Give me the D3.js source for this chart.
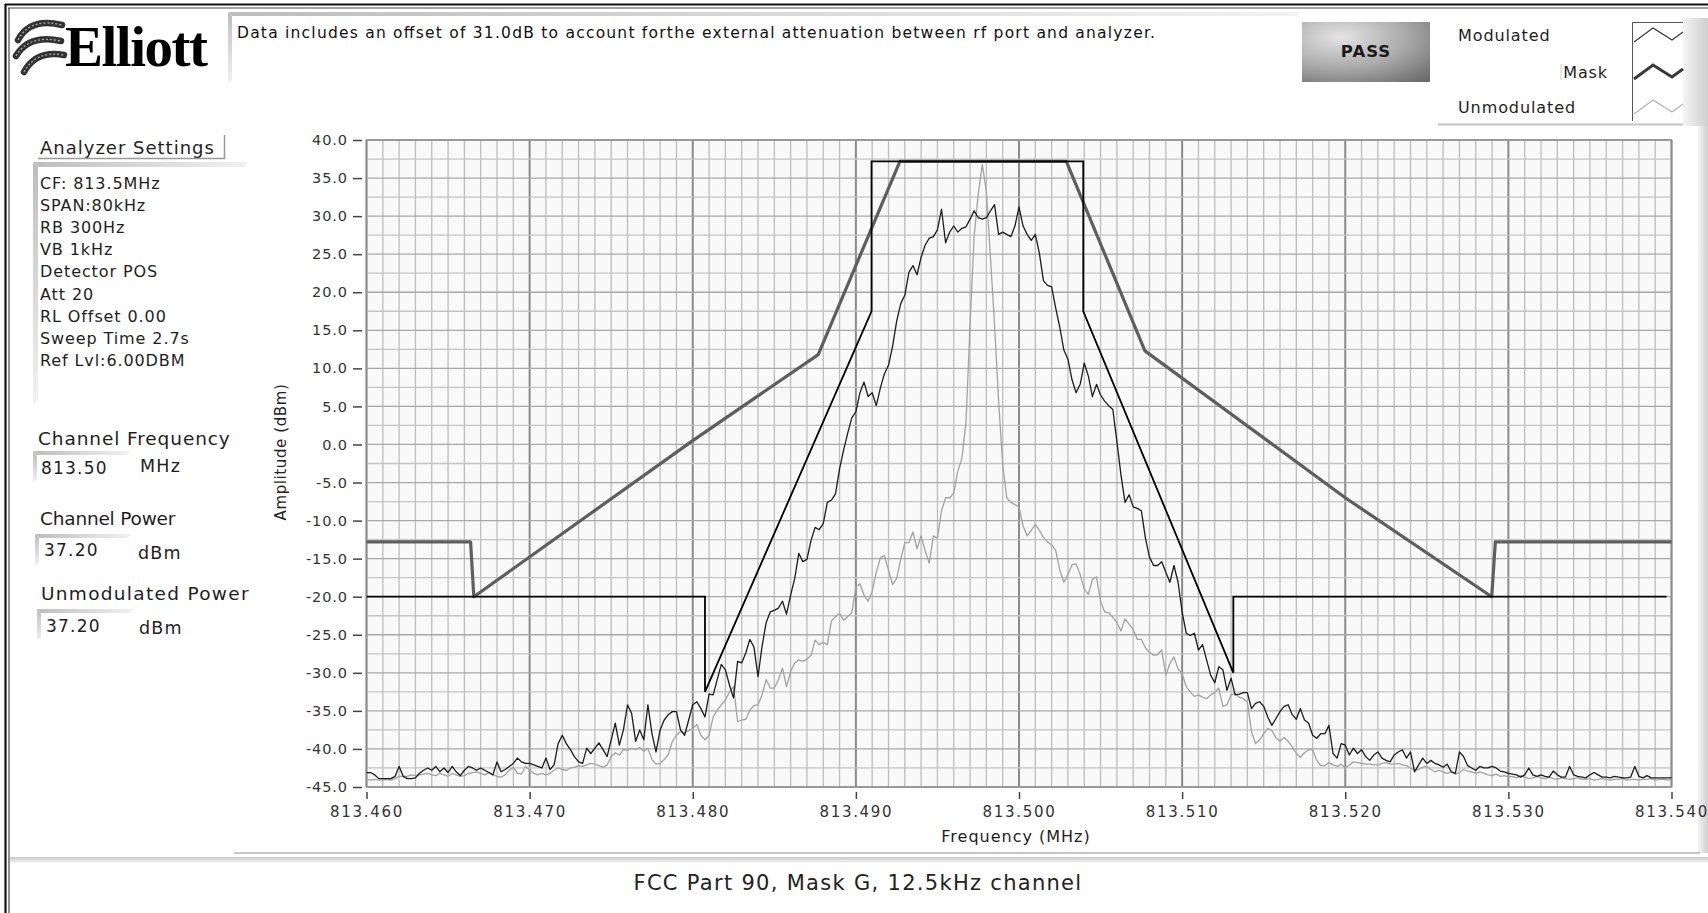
<!DOCTYPE html>
<html><head><meta charset="utf-8">
<script src="https://cdn.jsdelivr.net/npm/d3@7"></script>
<style>
body{margin:0;background:#fff;overflow:hidden}
svg{display:block}
text{font-family:"DejaVu Sans",Verdana,sans-serif}
</style></head>
<body>
<svg id="c" width="1708" height="913"></svg>
<script>
// ---------------- DATA ----------------
const freqStartMHz = 813.460;      // first sweep point
const freqStepKHz = 0.25;          // sweep point spacing
// Modulated trace (dBm), 321 points, 813.460 .. 813.540 MHz
const modulatedDbm = [
-43.1,-43.1,-43.4,-43.9, -43.9,-43.9,-43.9,-43.6, -42.3,-43.6,-43.9,-43.9, -43.8,-43.2,-42.8,-42.5,
-42.8,-42.3,-43.0,-42.5, -43.1,-42.3,-43.0,-43.5, -42.8,-42.3,-42.5,-42.8, -42.5,-42.8,-43.1,-43.4,
-41.7,-43.0,-42.7,-42.3, -41.9,-41.2,-41.7,-41.9, -41.9,-42.1,-42.3,-42.5, -41.2,-42.7,-42.1,-39.3,
-38.2,-39.3,-40.1,-41.0, -41.7,-41.9,-39.9,-40.6, -39.9,-39.2,-40.1,-41.0, -38.8,-36.6,-39.5,-37.5,
-34.2,-35.3,-39.0,-37.5, -38.8,-34.2,-38.0,-40.4, -37.5,-36.2,-35.5,-35.1, -35.1,-37.5,-38.2,-36.2,
-34.2,-33.8,-34.7,-35.8, -32.8,-32.9,-30.9,-28.9, -29.6,-31.6,-33.3,-28.5, -28.7,-27.4,-25.6,-26.6,
-30.5,-26.5,-23.4,-22.0, -21.8,-21.5,-20.6,-22.3, -19.8,-17.6,-14.3,-15.4, -15.1,-12.6,-10.9,-11.2,
-10.4,-7.6,-7.3,-6.5, -3.2,-0.7,1.5,3.5, 4.3,6.8,8.2,6.3, 6.8,5.1,7.4,9.3,
10.4,12.9,16.2,18.5, 19.6,22.6,23.5,22.3, 24.6,26.2,27.1,27.3, 28.2,30.9,26.5,27.9,
28.7,27.9,28.4,28.6, 29.6,30.7,29.8,29.6, 29.8,30.7,31.5,27.6, 27.9,27.6,27.3,28.7,
31.2,28.7,27.6,26.8, 27.6,25.1,21.5,20.9, 20.7,17.9,15.4,12.4, 11.2,8.5,6.8,7.9,
10.7,9.0,6.3,7.9, 6.5,5.7,5.1,4.6, 0.4,-4.0,-7.6,-6.6, -8.2,-8.4,-8.7,-12.3,
-14.8,-15.9,-15.9,-15.4, -16.8,-18.1,-15.9,-18.1, -22.0,-24.8,-25.1,-24.8, -27.0,-26.3,-28.3,-30.3,
-31.3,-29.2,-29.6,-32.3, -30.7,-32.9,-32.8,-32.6, -32.6,-34.7,-34.0,-33.8, -34.4,-35.8,-36.9,-36.0,
-35.1,-34.4,-34.2,-35.5, -36.1,-34.7,-36.2,-36.6, -38.2,-38.6,-38.0,-38.0, -36.9,-40.6,-41.2,-39.3,
-39.5,-40.8,-39.9,-40.6, -40.1,-41.0,-41.5,-40.8, -40.4,-41.2,-41.5,-41.7, -40.8,-40.4,-40.1,-41.2,
-40.4,-43.0,-42.1,-41.2, -41.9,-41.5,-41.9,-42.1, -42.4,-42.0,-43.0,-43.2, -40.4,-41.0,-42.2,-42.5,
-42.8,-42.3,-42.5,-42.5, -42.3,-42.5,-42.9,-43.0, -43.2,-43.3,-43.4,-43.7, -43.4,-42.5,-43.4,-43.6,
-43.4,-43.6,-43.7,-42.9, -43.4,-43.7,-43.7,-42.3, -43.4,-43.6,-43.7,-43.8, -43.4,-43.1,-43.4,-43.7,
-43.7,-43.8,-43.6,-43.7, -43.8,-43.8,-43.7,-42.3, -43.6,-43.8,-43.5,-43.8, -43.8,-43.8,-43.8,-43.8,
-43.8
];
// Unmodulated trace (dBm), 321 points
const unmodulatedDbm = [
-44.0,-44.1,-44.0,-44.1, -44.1,-44.0,-44.1,-43.9, -43.6,-43.6,-43.6,-43.4, -43.5,-43.4,-43.3,-43.2,
-43.4,-43.5,-43.2,-43.4, -43.6,-43.2,-43.4,-43.6, -43.5,-43.2,-43.1,-43.0, -43.2,-43.4,-43.1,-43.4,
-43.6,-43.7,-43.4,-42.8, -42.4,-43.2,-43.3,-42.3, -42.8,-43.2,-43.4,-43.2, -43.4,-43.2,-42.8,-42.5,
-42.7,-42.8,-42.5,-42.4, -42.2,-42.3,-42.1,-41.9, -42.0,-42.2,-42.4,-42.1, -41.0,-40.5,-40.8,-40.1,
-40.2,-39.9,-40.1,-39.8, -40.3,-39.9,-41.4,-42.0, -41.9,-41.4,-40.7,-39.0, -38.2,-37.7,-37.9,-37.6,
-37.3,-36.8,-38.2,-38.8, -38.2,-35.8,-34.9,-34.2, -33.6,-32.5,-31.8,-36.4, -36.2,-36.1,-34.9,-34.3,
-34.2,-32.9,-30.9,-32.0, -32.0,-30.9,-29.4,-31.8, -29.8,-28.7,-28.3,-28.5, -28.2,-27.7,-25.7,-26.3,
-26.0,-26.3,-23.2,-22.6, -22.2,-23.1,-22.6,-22.1, -18.7,-18.3,-19.8,-20.6, -19.3,-16.8,-14.9,-14.6,
-16.5,-18.4,-17.6,-15.1, -12.9,-12.9,-11.5,-13.7, -12.0,-14.0,-15.6,-12.0, -12.3,-8.7,-7.0,-7.0,
-6.4,-3.5,-1.8,2.9, 15.7,27.3,32.9,36.8, 33.2,24.6,15.7,5.7, -2.6,-7.0,-7.6,-7.9,
-8.2,-10.7,-12.0,-11.3, -10.5,-11.3,-12.2,-12.8, -13.2,-13.9,-16.5,-18.1, -17.1,-15.8,-15.7,-17.1,
-19.0,-19.7,-17.7,-17.4, -20.6,-22.0,-22.1,-22.7, -23.4,-24.5,-22.9,-23.6, -24.3,-25.6,-25.6,-26.7,
-27.3,-27.7,-27.6,-27.0, -30.3,-28.8,-27.9,-29.5, -30.1,-31.8,-32.5,-33.1, -32.9,-33.2,-33.4,-32.9,
-32.6,-32.0,-34.4,-34.2, -32.9,-32.7,-33.2,-33.4, -33.8,-37.7,-39.3,-38.8, -38.0,-37.3,-37.6,-38.5,
-39.0,-38.5,-39.0,-39.7, -40.6,-41.1,-40.5,-40.1, -40.1,-41.5,-42.2,-42.2, -41.8,-42.1,-42.3,-42.0,
-42.5,-42.1,-41.7,-41.8, -41.9,-42.0,-42.0,-42.1, -42.1,-41.9,-41.8,-42.0, -42.0,-41.9,-42.1,-42.2,
-42.5,-42.8,-42.7,-42.4, -42.3,-42.7,-43.0,-42.8, -43.0,-43.2,-43.0,-43.3, -43.1,-42.7,-42.9,-43.0,
-43.2,-43.0,-43.2,-43.4, -43.5,-43.3,-43.6,-43.5, -43.7,-43.6,-43.8,-43.5, -43.7,-43.9,-43.8,-43.6,
-43.8,-43.9,-43.7,-43.9, -44.0,-43.8,-43.9,-44.0, -43.9,-43.8,-44.0,-44.0, -43.9,-44.1,-44.0,-43.9,
-44.0,-44.1,-44.0,-44.0, -43.9,-44.1,-44.0,-44.0, -44.1,-44.0,-44.0,-43.9, -44.1,-44.0,-44.0,-44.1,
-44.0
];
// Emission mask (thick grey trace)
const maskFreqMHz = [813.460, 813.46638, 813.46658, 813.480, 813.48769, 813.4927, 813.5029, 813.50772, 813.520, 813.52898, 813.52920, 813.540];
const maskDbm     = [-12.8, -12.8, -20.0, 0.5, 11.8, 37.2, 37.2, 12.3, -7.0, -20.0, -12.8, -12.8];
// Limit outline (thin black)
const limitFreqMHz = [813.460, 813.48075, 813.48075, 813.49096, 813.49096, 813.50394, 813.50394, 813.51314, 813.51314, 813.5397];
const limitDbm     = [-20, -20, -32.5, 17.5, 37.2, 37.2, 17.5, -30.0, -20, -20];
// Axes
const xTickValues = [813.460, 813.470, 813.480, 813.490, 813.500, 813.510, 813.520, 813.530, 813.540];
const yTickValues = [-45, -40, -35, -30, -25, -20, -15, -10, -5, 0, 5, 10, 15, 20, 25, 30, 35, 40];
// Texts
const settingsLines = ["CF: 813.5MHz","SPAN:80kHz","RB 300Hz","VB 1kHz","Detector POS","Att 20","RL Offset 0.00","Sweep Time 2.7s","Ref Lvl:6.00DBM"];
const legendLabels = ["Modulated","Mask","Unmodulated"];
const noteText = "Data includes an offset of 31.0dB to account forthe external attenuation between rf port and analyzer.";
const captionText = "FCC Part 90, Mask G, 12.5kHz channel";

if (modulatedDbm.length !== 321 || unmodulatedDbm.length !== 321)
  throw new Error("len " + modulatedDbm.length + " " + unmodulatedDbm.length);

// ---------------- DRAW ----------------
const svg = d3.select("#c");
const defs = svg.append("defs");
function lg(id, x2, y2, stops){
  const g = defs.append("linearGradient").attr("id", id).attr("x1",0).attr("y1",0).attr("x2",x2).attr("y2",y2);
  stops.forEach(s => g.append("stop").attr("offset", s[0]).attr("stop-color", s[1]));
}
lg("gH", 1, 0, [[0,"#bdbdbd"],[1,"#f2f2f2"]]);
lg("gV", 0, 1, [[0,"#bdbdbd"],[1,"#f2f2f2"]]);
lg("gSide", 1, 0, [[0,"#f4f4f4"],[1,"#cfcfcf"]]);
lg("gCap", 0, 1, [[0,"#c8c8c8"],[1,"#f6f6f6"]]);
const rg = defs.append("radialGradient").attr("id","gBtn").attr("cx","0.3").attr("cy","0.25").attr("r","0.95");
rg.append("stop").attr("offset",0).attr("stop-color","#e4e4e4");
rg.append("stop").attr("offset",0.55).attr("stop-color","#a9a9a9");
rg.append("stop").attr("offset",1).attr("stop-color","#6e6e6e");

function txt(xp, yp, s, size, ls, anchor){
  return svg.append("text").attr("x",xp).attr("y",yp).text(s)
    .attr("text-anchor", anchor || "start")
    .style("font-size", size + "px").style("letter-spacing", (ls||0) + "px").attr("fill","#1e1e1e");
}
// sunken-frame helper (light-grey bevel on top and left)
function bevel(x0, y0, x1, y1, w){
  svg.append("path").attr("d", `M${x0},${y0}L${x1},${y0}L${x1-w},${y0+w}L${x0+w},${y0+w}Z`).attr("fill","url(#gH)");
  svg.append("path").attr("d", `M${x0},${y0}L${x0+w},${y0+w}L${x0+w},${y1-w}L${x0},${y1}Z`).attr("fill","url(#gV)");
}

// outer window frame
svg.append("line").attr("x1",5).attr("x2",1708).attr("y1",4.5).attr("y2",4.5).attr("stroke","#111").attr("stroke-width",2);
svg.append("line").attr("x1",8).attr("x2",1708).attr("y1",8).attr("y2",8).attr("stroke","#444").attr("stroke-width",1.2);
svg.append("line").attr("x1",5.5).attr("x2",5.5).attr("y1",4).attr("y2",913).attr("stroke","#111").attr("stroke-width",2.2);
svg.append("line").attr("x1",9).attr("x2",9).attr("y1",8).attr("y2",913).attr("stroke","#444").attr("stroke-width",1.2);

// logo
const logo = svg.append("g");
["M18,40 Q30,17 62,25","M16,56 Q29,34 61,41","M24,72 Q36,50 64,55"].forEach(p=>{
  logo.append("path").attr("d",p).attr("fill","none").attr("stroke","#333").attr("stroke-width",6.5).attr("stroke-linecap","round");
  logo.append("path").attr("d",p).attr("fill","none").attr("stroke","#aaa").attr("stroke-width",1.3).attr("stroke-dasharray","2 2");
});
svg.append("text").attr("x",65).attr("y",66).text("Elliott")
  .style("font-family","'Liberation Serif','Times New Roman',serif").style("font-weight","bold")
  .style("font-size","57px").style("letter-spacing","-1.5px").attr("fill","#000");

// note box
bevel(228, 12, 1300, 84, 4);
txt(237, 38, noteText, 15.5).attr("textLength",918).attr("lengthAdjust","spacing").attr("fill","#111");

// PASS button
svg.append("rect").attr("x",1302).attr("y",22).attr("width",128).attr("height",60).attr("fill","url(#gBtn)");
txt(1366, 57, "PASS", 16.5, 1, "middle").style("font-weight","bold").attr("fill","#1a1a1a");

// legend
svg.append("rect").attr("x",1683).attr("y",18).attr("width",25).attr("height",108).attr("fill","url(#gSide)");
svg.append("line").attr("x1",1438).attr("x2",1683).attr("y1",124.5).attr("y2",124.5).attr("stroke","#c4c4c4").attr("stroke-width",2);
const legY = [35, 72, 107];
txt(1458, legY[0]+6, legendLabels[0], 16, 0.9);
txt(1608, legY[1]+6, legendLabels[1], 16, 0.9, "end");
svg.append("line").attr("x1",1561).attr("x2",1561).attr("y1",64).attr("y2",80).attr("stroke","#ccc");
txt(1458, legY[2]+6, legendLabels[2], 16, 0.9);
svg.append("path").attr("d","M1632.5,121V22.5H1683").attr("fill","none").attr("stroke","#555").attr("stroke-width",1);
const legIcon = (dy) => `M1634,${dy+7}L1653,${dy-7}L1672,${dy+5}L1683,${dy-3}`;
svg.append("path").attr("d",legIcon(legY[0])).attr("fill","none").attr("stroke","#333").attr("stroke-width",1.1);
svg.append("path").attr("d",legIcon(legY[1])).attr("fill","none").attr("stroke","#3a3a3a").attr("stroke-width",3);
svg.append("path").attr("d",legIcon(legY[2])).attr("fill","none").attr("stroke","#b0b0b0").attr("stroke-width",1.1);

// right-side shade bar
svg.append("rect").attr("x",1698).attr("y",126).attr("width",10).attr("height",727).attr("fill","url(#gSide)");

// left panel
txt(40, 153.5, "Analyzer Settings", 18, 1);
svg.append("path").attr("d","M38,158.5H224.5V135").attr("fill","none").attr("stroke","#9a9a9a").attr("stroke-width",1.5);
bevel(33, 162, 248, 405, 5);
settingsLines.forEach((s,i)=> txt(40, 188.5 + i*22.2, s, 16, 0.9));
const fields = [
  {label:"Channel Frequency", ls:0.9, ly:438, lx:38, bx:33, by:451, val:"813.50", vx:41, vy:468, unit:"MHz", ux:140, uy:466},
  {label:"Channel Power", ls:-0.2, ly:518, lx:40, bx:35, by:534, val:"37.20", vx:44, vy:550, unit:"dBm", ux:138, uy:553},
  {label:"Unmodulated Power", ls:1.3, ly:593, lx:41, bx:37, by:609, val:"37.20", vx:46, vy:626, unit:"dBm", ux:139, uy:628}
];
fields.forEach(f=>{
  txt(f.lx, f.ly+6.5, f.label, 18.5, f.ls);
  bevel(f.bx, f.by, f.bx+97, f.by+32, 4);
  txt(f.vx, f.vy+6, f.val, 17, 1.2);
  txt(f.ux, f.uy+6, f.unit, 17.5, 1.2);
});

// ---------- plot ----------
const x = d3.scaleLinear().domain([813.460, 813.540]).range([366.5, 1671.5]);
const y = d3.scaleLinear().domain([-45, 40]).range([787, 140]);
const [px0, px1] = x.range(), [py1, py0] = y.range();

svg.append("rect").attr("x",px0).attr("y",py0).attr("width",px1-px0).attr("height",py1-py0).attr("fill","#f9f9f9");
const grid = svg.append("g");
d3.range(0, 81).forEach(k=>{
  const f = 813.460 + k/1000, major = (k % 10 === 0);
  grid.append("line").attr("x1",x(f)).attr("x2",x(f)).attr("y1",py0).attr("y2",py1)
    .attr("stroke", major ? "#8a8a8a" : "#bdbdbd").attr("stroke-width", major ? 2 : 1.3);
});
d3.range(0, 35).forEach(j=>{
  const v = -45 + j*2.5, major = (j % 2 === 0);
  grid.append("line").attr("x1",px0).attr("x2",px1).attr("y1",y(v)).attr("y2",y(v))
    .attr("stroke", major ? "#a8a8a8" : "#c4c4c4").attr("stroke-width", 1.3);
});
svg.append("rect").attr("x",px0).attr("y",py0).attr("width",px1-px0).attr("height",py1-py0)
  .attr("fill","none").attr("stroke","#8e8e8e").attr("stroke-width",1.5);

// axes
const yAxis = svg.append("g").attr("transform","translate(362,0)")
  .call(d3.axisLeft(y).tickValues(yTickValues).tickFormat(d=>d.toFixed(1)).tickSize(9).tickPadding(5));
const xAxis = svg.append("g").attr("transform","translate(0,792)")
  .call(d3.axisBottom(x).tickValues(xTickValues).tickFormat(d=>d.toFixed(3)).tickSize(7).tickPadding(7));
[yAxis, xAxis].forEach(a=>{
  a.select(".domain").remove();
  a.selectAll(".tick line").attr("stroke","#444").attr("stroke-width",1.5);
  a.selectAll(".tick text").attr("fill","#333").style("font-family","'DejaVu Sans',sans-serif")
    .style("font-size","14.5px").style("letter-spacing","0.9px");
});
xAxis.selectAll(".tick text").style("font-size","15px").style("letter-spacing","1.7px");
txt(1016, 842, "Frequency (MHz)", 16, 1, "middle");
svg.append("text").attr("transform","translate(286,452) rotate(-90)").attr("text-anchor","middle").text("Amplitude (dBm)")
  .style("font-size","15px").style("letter-spacing","0.6px").attr("fill","#1e1e1e");

// traces
defs.append("clipPath").attr("id","clip").append("rect").attr("x",px0-4).attr("y",py0-2).attr("width",px1-px0+8).attr("height",py1-py0+4);
const plot = svg.append("g").attr("clip-path","url(#clip)");
const line = d3.line().x(d=>x(d[0])).y(d=>y(d[1]));
const zipF = (fs, vs) => fs.map((f,i)=>[f, vs[i]]);
const sweep = vs => vs.map((v,i)=>[freqStartMHz + i*freqStepKHz/1000, v]);

plot.append("path").datum(zipF(maskFreqMHz, maskDbm)).attr("d",line)
  .attr("fill","none").attr("stroke","#5e5e5e").attr("stroke-width",3.2).attr("stroke-linejoin","round");
plot.append("path").datum(sweep(unmodulatedDbm)).attr("d",line)
  .attr("fill","none").attr("stroke","#a2a2a2").attr("stroke-width",1.3).attr("stroke-linejoin","round");
plot.append("path").datum(sweep(modulatedDbm)).attr("d",line)
  .attr("fill","none").attr("stroke","#1c1c1c").attr("stroke-width",1.3).attr("stroke-linejoin","round");
plot.append("path").datum(zipF(limitFreqMHz, limitDbm)).attr("d",line)
  .attr("fill","none").attr("stroke","#000").attr("stroke-width",1.8);

// graph panel bottom + caption
svg.append("line").attr("x1",234).attr("x2",1700).attr("y1",853).attr("y2",853).attr("stroke","#c6c6c6").attr("stroke-width",2);
svg.append("rect").attr("x",10).attr("y",857).attr("width",1698).attr("height",6).attr("fill","url(#gCap)");
txt(858, 890, captionText, 21, 1.3, "middle").attr("fill","#222");
</script>
</body></html>
